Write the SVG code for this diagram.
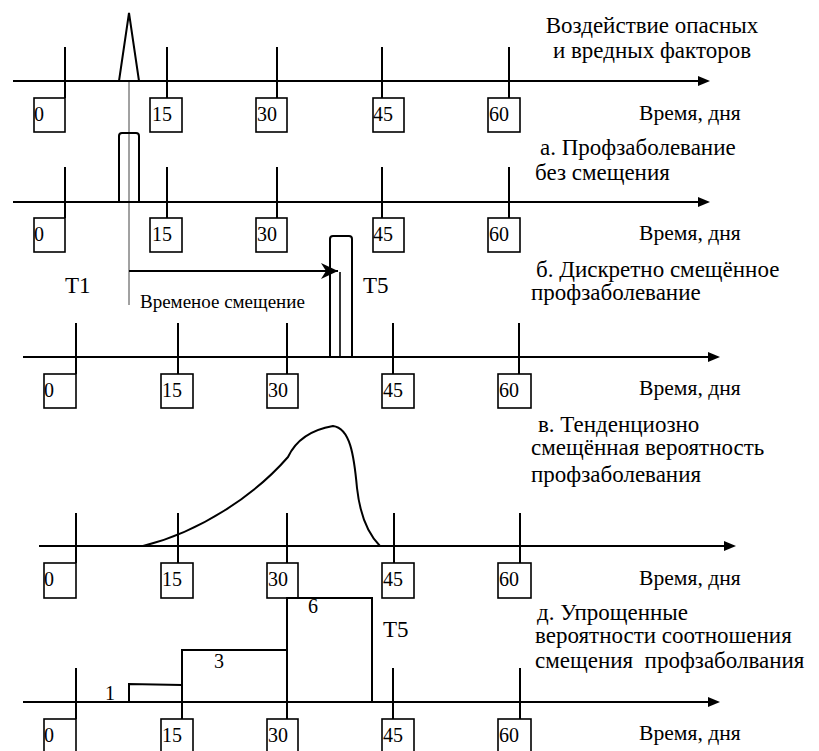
<svg xmlns="http://www.w3.org/2000/svg" width="819" height="751" viewBox="0 0 819 751">
<style>
text{font-family:'Liberation Serif','Times New Roman',serif;fill:#000}
.lbl{font-size:23px}
.tm{font-size:21.6px}
.num{font-size:20px}
.small{font-size:19px}
.ax{stroke:#000;stroke-width:2;fill:none}
.tk{stroke:#000;stroke-width:2;fill:none}
.bx{stroke:#000;stroke-width:1.6;fill:#fff}
.thin{stroke:#444;stroke-width:1;fill:none}
.ln{stroke:#000;stroke-width:2;fill:none}
</style>
<defs>
<marker id="axh" markerUnits="userSpaceOnUse" markerWidth="13" markerHeight="11" refX="1" refY="5" orient="auto" overflow="visible">
<path d="M0,0 L12,5 L0,10 z" fill="#000"/>
</marker>
<marker id="sh" markerUnits="userSpaceOnUse" markerWidth="18" markerHeight="16" refX="17" refY="8" orient="auto" overflow="visible">
<path d="M0,0 L17,8 L0,16 L5,8 z" fill="#000"/>
</marker>
</defs>
<rect width="819" height="751" fill="#fff"/>

<g id="connectors">
<line class="thin" x1="129" y1="81" x2="129" y2="305"/>
<line class="ln" x1="129" y1="271" x2="338" y2="271" marker-end="url(#sh)"/>
</g>

<g id="panel-1">
<line class="ax" x1="13" y1="81" x2="699" y2="81" marker-end="url(#axh)"/>
<path class="ln" d="M119,81 L129,13 L139,81"/>
<line class="tk" x1="65" y1="47" x2="65" y2="98"/>
<line class="tk" x1="167" y1="47" x2="167" y2="98"/>
<line class="tk" x1="277" y1="47" x2="277" y2="98"/>
<line class="tk" x1="382" y1="47" x2="382" y2="98"/>
<line class="tk" x1="509" y1="47" x2="509" y2="98"/>
<rect class="bx" x="34" y="98" width="31" height="34"/>
<rect class="bx" x="150" y="98" width="32" height="34"/>
<rect class="bx" x="256" y="98" width="31" height="34"/>
<rect class="bx" x="373" y="98" width="31" height="34"/>
<rect class="bx" x="488" y="98" width="32" height="34"/>
<text class="num" x="34" y="121">0</text>
<text class="num" x="152" y="121">15</text>
<text class="num" x="257" y="121">30</text>
<text class="num" x="373" y="121">45</text>
<text class="num" x="489" y="121">60</text>
<text class="lbl" x="652" y="33" text-anchor="middle">Воздействие опасных</text>
<text class="lbl" x="652" y="58" text-anchor="middle">и вредных факторов</text>
<text class="tm" x="639" y="120">Время, дня</text>
</g>

<g id="panel-a">
<line class="ax" x1="13" y1="202" x2="699" y2="202" marker-end="url(#axh)"/>
<path class="ln" d="M119,202 L119,136 Q119,133 122,133 L136,133 Q139,133 139,136 L139,202"/>
<line class="tk" x1="65" y1="167" x2="65" y2="218"/>
<line class="tk" x1="167" y1="167" x2="167" y2="218"/>
<line class="tk" x1="277" y1="167" x2="277" y2="218"/>
<line class="tk" x1="382" y1="167" x2="382" y2="218"/>
<line class="tk" x1="509" y1="167" x2="509" y2="218"/>
<rect class="bx" x="34" y="218" width="31" height="34"/>
<rect class="bx" x="150" y="218" width="32" height="34"/>
<rect class="bx" x="256" y="218" width="31" height="34"/>
<rect class="bx" x="373" y="218" width="31" height="34"/>
<rect class="bx" x="488" y="218" width="32" height="34"/>
<text class="num" x="34" y="241">0</text>
<text class="num" x="152" y="241">15</text>
<text class="num" x="257" y="241">30</text>
<text class="num" x="373" y="241">45</text>
<text class="num" x="489" y="241">60</text>
<text class="lbl" x="540" y="155">а. Профзаболевание</text>
<text class="lbl" x="535" y="180">без смещения</text>
<text class="tm" x="639" y="240">Время, дня</text>
</g>

<g id="panel-b">
<line class="ax" x1="23" y1="357" x2="709" y2="357" marker-end="url(#axh)"/>
<path class="ln" d="M330,357 L330,239 Q330,236 333,236 L349,236 Q352,236 352,239 L352,357"/>
<line class="ln" x1="340" y1="272" x2="340" y2="357" style="stroke-width:1.6"/>
<line class="tk" x1="76" y1="323" x2="76" y2="374"/>
<line class="tk" x1="178" y1="323" x2="178" y2="374"/>
<line class="tk" x1="287" y1="323" x2="287" y2="374"/>
<line class="tk" x1="393" y1="323" x2="393" y2="374"/>
<line class="tk" x1="519" y1="323" x2="519" y2="374"/>
<rect class="bx" x="44" y="374" width="32" height="34"/>
<rect class="bx" x="161" y="374" width="32" height="34"/>
<rect class="bx" x="267" y="374" width="31" height="34"/>
<rect class="bx" x="382" y="374" width="32" height="34"/>
<rect class="bx" x="498" y="374" width="33" height="34"/>
<text class="num" x="44" y="397">0</text>
<text class="num" x="162" y="397">15</text>
<text class="num" x="268" y="397">30</text>
<text class="num" x="383" y="397">45</text>
<text class="num" x="499" y="397">60</text>
<text class="lbl" x="65" y="293">T1</text>
<text class="lbl" x="363" y="293">T5</text>
<text class="small" x="140" y="308">Временое смещение</text>
<text class="lbl" x="536" y="277">б. Дискретно смещённое</text>
<text class="lbl" x="531" y="300">профзаболевание</text>
<text class="tm" x="639" y="395">Время, дня</text>
</g>

<g id="panel-v">
<line class="ax" x1="39" y1="546" x2="725" y2="546" marker-end="url(#axh)"/>
<path class="ln" d="M143,546 C200,532 255,495 288,457 C296,440 310,430 333,426 C350,428 354,455 357,488 C360,515 368,534 380,546"/>
<line class="tk" x1="76" y1="513" x2="76" y2="563"/>
<line class="tk" x1="178" y1="513" x2="178" y2="563"/>
<line class="tk" x1="287" y1="513" x2="287" y2="563"/>
<line class="tk" x1="394" y1="513" x2="394" y2="563"/>
<line class="tk" x1="520" y1="513" x2="520" y2="563"/>
<rect class="bx" x="44" y="563" width="32" height="35"/>
<rect class="bx" x="161" y="563" width="32" height="35"/>
<rect class="bx" x="267" y="563" width="31" height="35"/>
<rect class="bx" x="382" y="563" width="32" height="35"/>
<rect class="bx" x="498" y="563" width="33" height="35"/>
<text class="num" x="44" y="586">0</text>
<text class="num" x="162" y="586">15</text>
<text class="num" x="268" y="586">30</text>
<text class="num" x="383" y="586">45</text>
<text class="num" x="499" y="586">60</text>
<text class="lbl" x="538" y="432">в. Тенденциозно</text>
<text class="lbl" x="531" y="455">смещённая вероятность</text>
<text class="lbl" x="531" y="482">профзаболевания</text>
<text class="tm" x="639" y="585">Время, дня</text>
</g>

<g id="panel-d">
<line class="ax" x1="23" y1="702" x2="709" y2="702" marker-end="url(#axh)"/>
<path class="ln" d="M129,702 L129,684 L182,685 M182,702 L182,650 L287,650 M287,702 L287,598 L372,598 L372,702"/>
<line class="tk" x1="76" y1="668" x2="76" y2="719"/>
<line class="tk" x1="182" y1="668" x2="182" y2="719"/>
<line class="tk" x1="287" y1="668" x2="287" y2="719"/>
<line class="tk" x1="393" y1="668" x2="393" y2="719"/>
<line class="tk" x1="520" y1="668" x2="520" y2="719"/>
<rect class="bx" x="44" y="719" width="32" height="36"/>
<rect class="bx" x="161" y="719" width="32" height="36"/>
<rect class="bx" x="267" y="719" width="31" height="36"/>
<rect class="bx" x="382" y="719" width="32" height="36"/>
<rect class="bx" x="498" y="719" width="33" height="36"/>
<text class="num" x="44" y="742">0</text>
<text class="num" x="162" y="742">15</text>
<text class="num" x="268" y="742">30</text>
<text class="num" x="383" y="742">45</text>
<text class="num" x="499" y="742">60</text>
<text class="num" x="105" y="700">1</text>
<text class="num" x="214" y="668">3</text>
<text class="num" x="308" y="613">6</text>
<text class="lbl" x="383" y="637">T5</text>
<text class="lbl" x="537" y="620">д. Упрощенные</text>
<text class="lbl" x="535" y="643">вероятности соотношения</text>
<text class="lbl" x="535" y="668" xml:space="preserve">смещения  профзаболвания</text>
<text class="tm" x="639" y="740">Время, дня</text>
</g>
</svg>
